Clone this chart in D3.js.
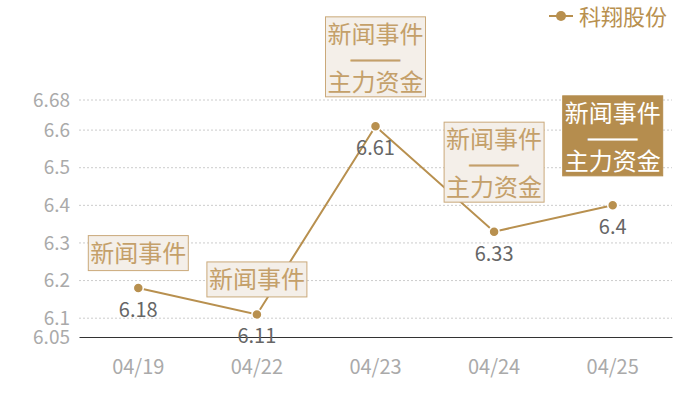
<!DOCTYPE html>
<html>
<head>
<meta charset="utf-8">
<script src="https://cdn.jsdelivr.net/npm/d3@7/dist/d3.min.js"></script>
<style>
    body { margin: 0; background: #ffffff; }
    svg { display: block; font-family: "Noto Sans CJK SC", "Noto Sans", sans-serif; }
</style>
</head>
<body>
<svg id="chart" width="700" height="400"></svg>
<script>
const dates = ["04/19", "04/22", "04/23", "04/24", "04/25"];
const prices = [6.18, 6.11, 6.61, 6.33, 6.4];
const yTicks = [6.05, 6.1, 6.2, 6.3, 6.4, 6.5, 6.6, 6.68];
const seriesName = "科翔股份";
// annotation text per point, lines joined by "|"
const notes = ["新闻事件", "新闻事件", "新闻事件|——|主力资金", "新闻事件|——|主力资金", "新闻事件|——|主力资金"];
const highlighted = [false, false, false, false, true];

const gold = "#b8904f";
const svg = d3.select("#chart");
const margin = {left: 79, right: 28, top: 100, bottom: 63};
const width = 700, height = 400;

let x = d3.scaleBand()
    .domain(dates)
    .range([margin.left, width - margin.right]);
let y = d3.scaleLinear()
    .domain([6.05, 6.68])
    .range([height - margin.bottom, margin.top]);

// grid lines
svg.append("g")
    .selectAll("line")
    .data(yTicks.filter(t => t > 6.05))
    .enter()
    .append("line")
    .attr("x1", margin.left)
    .attr("x2", width - margin.right)
    .attr("y1", d => y(d))
    .attr("y2", d => y(d))
    .attr("stroke", "#cccccc")
    .attr("stroke-dasharray", "2,2");

// y axis labels
let yAxis = svg.append("g")
    .attr("transform", `translate(${margin.left},0)`)
    .call(d3.axisLeft(y).tickValues(yTicks).tickSize(0).tickPadding(9).tickFormat(d => d));
yAxis.select(".domain").remove();
yAxis.selectAll("text")
    .attr("fill", "#aaaaaa")
    .style("font-size", "19px")
    .style("font-family", "'Noto Sans CJK SC', sans-serif");

// x axis
let xAxis = svg.append("g")
    .attr("transform", `translate(0,${y(6.05)})`)
    .call(d3.axisBottom(x).tickSize(0).tickPadding(23));
xAxis.select(".domain").attr("stroke", "#333333").attr("stroke-width", 1.2);
xAxis.selectAll("text")
    .attr("fill", "#aaaaaa")
    .style("font-size", "20px")
    .style("font-family", "'Noto Sans CJK SC', sans-serif");

let data = dates.map((d, i) => ({date: d, value: prices[i], note: notes[i], hi: highlighted[i]}));
let cx = d => x(d.date) + x.bandwidth() / 2;

// line
svg.append("path")
    .datum(data)
    .attr("fill", "none")
    .attr("stroke", gold)
    .attr("stroke-width", 2)
    .attr("d", d3.line().x(cx).y(d => y(d.value)));

svg.selectAll(".dot")
    .data(data)
    .enter()
    .append("circle")
    .attr("class", "dot")
    .attr("cx", cx)
    .attr("cy", d => y(d.value))
    .attr("r", 5)
    .attr("fill", gold)
    .attr("stroke", "#ffffff")
    .attr("stroke-width", 1.5);

// value labels
svg.selectAll(".value")
    .data(data)
    .enter()
    .append("text")
    .attr("class", "value")
    .attr("x", cx)
    .attr("y", d => y(d.value) + 29)
    .attr("text-anchor", "middle")
    .attr("fill", "#666666")
    .style("font-size", "20px")
    .text(d => d.value);

// annotation boxes
const boxW = 101;
let notesG = svg.selectAll(".note")
    .data(data)
    .enter()
    .append("g")
    .attr("class", "note")
    .attr("transform", d => {
        let lines = d.note.split("|").length;
        let h = lines > 1 ? 81 : 36;
        let gap = lines > 1 ? 29 : 17;
        return `translate(${cx(d) - boxW / 2},${y(d.value) - gap - h})`;
    });
notesG.append("rect")
    .attr("x", 0.5)
    .attr("y", 0.5)
    .attr("width", boxW - 1)
    .attr("height", d => (d.note.split("|").length > 1 ? 81 : 36) - 1)
    .attr("fill", d => d.hi ? "#b58d4e" : "#f4efe9")
    .attr("stroke", d => d.hi ? "#b58d4e" : "#caa97a")
    .attr("stroke-width", 1);
notesG.each(function (d) {
    let lines = d.note.split("|");
    let g = d3.select(this);
    let centers = lines.length > 1 ? [18, 43, 66] : [18];
    lines.forEach((line, i) => {
        let color = d.hi ? "#ffffff" : "#c4a06a";
        let t = g.append("text")
            .attr("x", boxW / 2)
            .attr("y", centers[i])
            .attr("dy", "0.35em")
            .attr("text-anchor", "middle")
            .attr("fill", color)
            .style("font-size", i == 1 ? "16px" : "24px")
            .text(line);
        if (line == "——") {
            // stretch the dashes to the width seen in the picture
            t.attr("textLength", 51)
                .attr("lengthAdjust", "spacingAndGlyphs")
                .attr("stroke", color)
                .attr("stroke-width", 0.9);
        }
    });
});

// legend
let legend = svg.append("g").attr("transform", "translate(549,16)");
legend.append("line")
    .attr("x1", 0).attr("x2", 24)
    .attr("stroke", gold).attr("stroke-width", 2);
legend.append("circle")
    .attr("cx", 12).attr("r", 5)
    .attr("fill", gold);
legend.append("text")
    .attr("x", 30)
    .attr("y", 1)
    .attr("dy", "0.35em")
    .attr("fill", gold)
    .style("font-size", "22px")
    .text(seriesName);
</script>
</body>
</html>
